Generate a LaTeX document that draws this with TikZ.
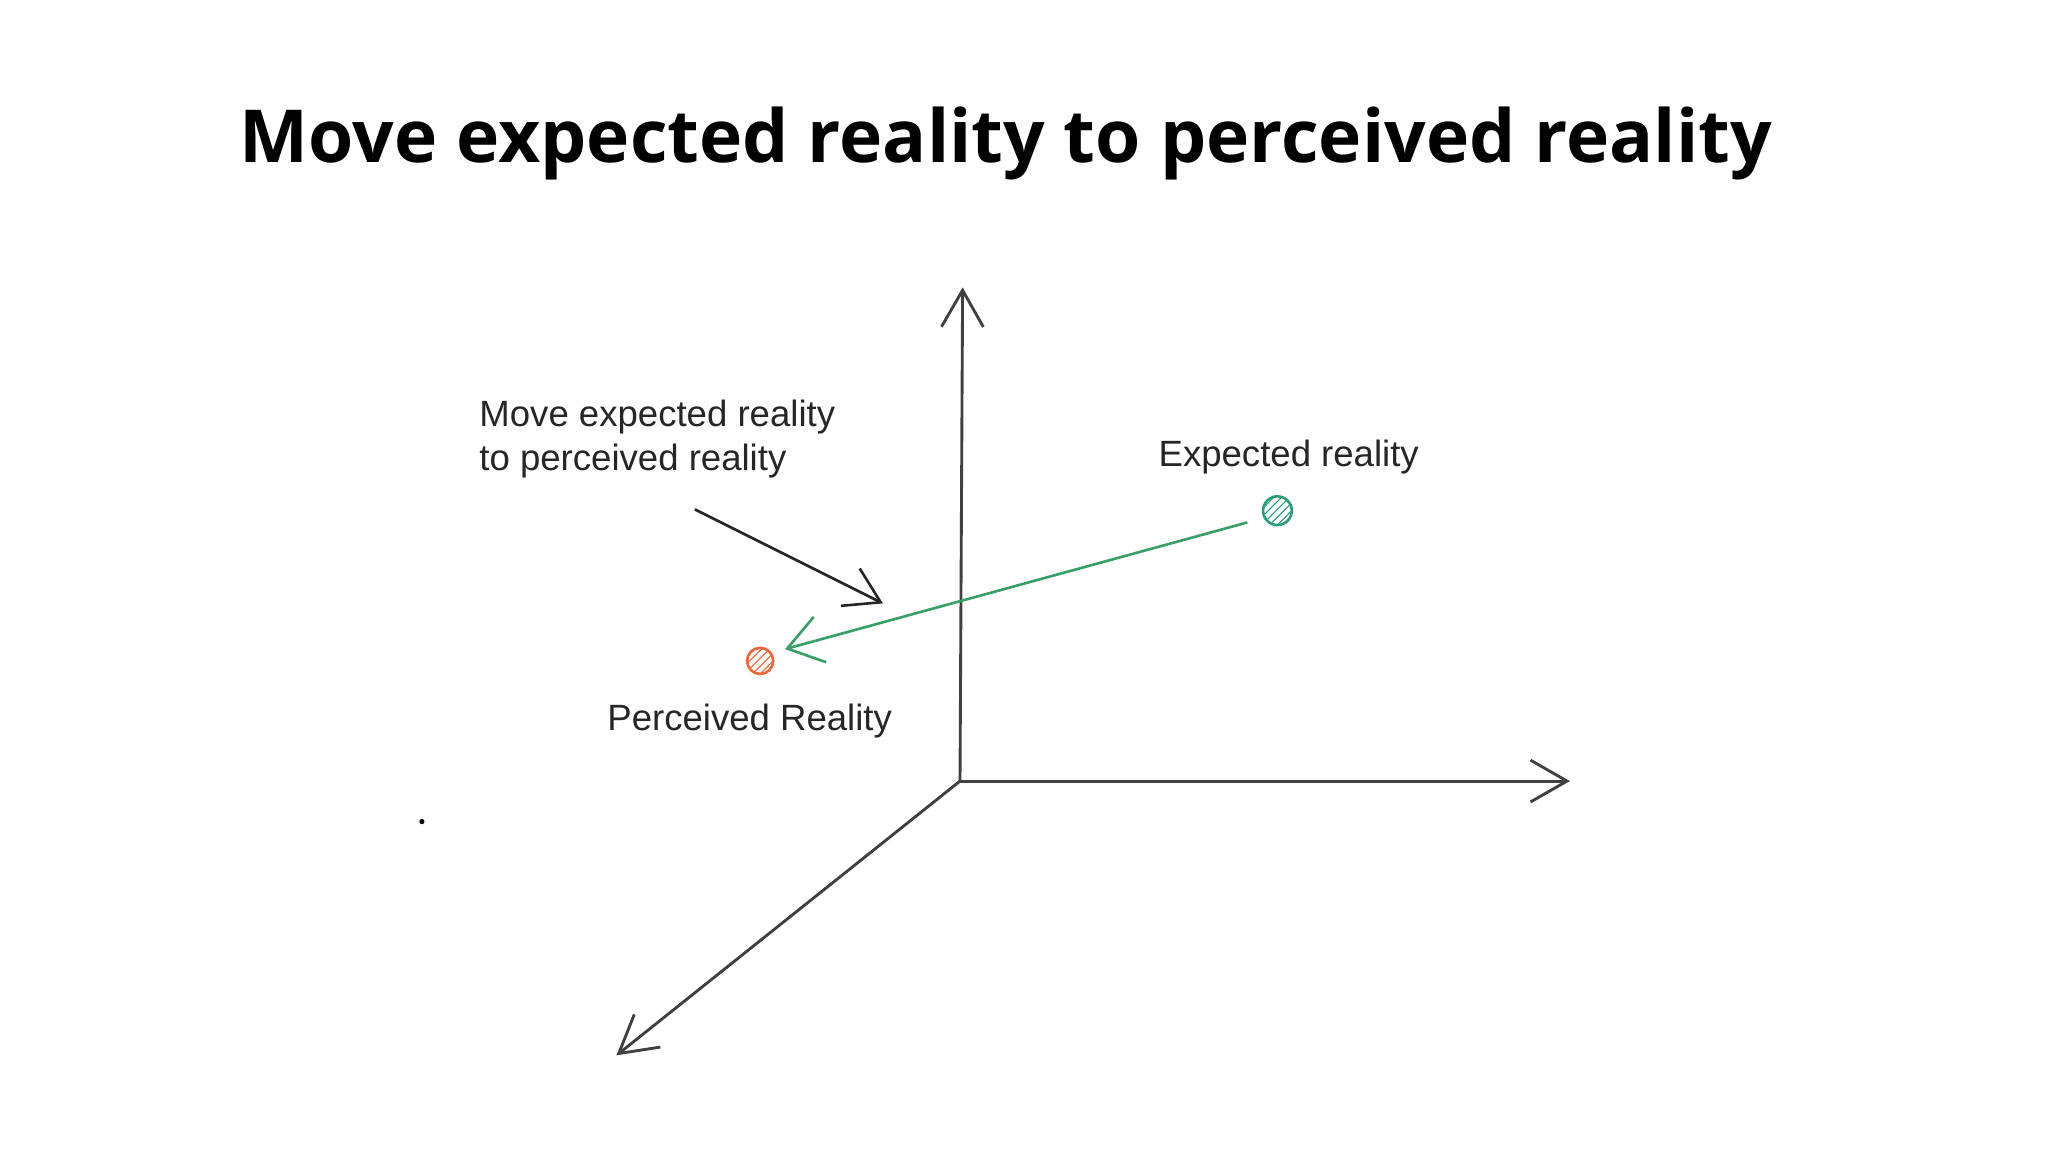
\documentclass[tikz,border=0pt]{standalone}
\usepackage{fontspec}
\setmainfont{Liberation Sans}
\newfontfamily\titlefont{Open Sans}
\usetikzlibrary{arrows.meta,patterns}
\definecolor{gline}{HTML}{3A9E68}
\definecolor{gdot}{HTML}{2E9C78}
\definecolor{odot}{HTML}{E8683A}
\begin{document}
\begin{tikzpicture}[x=0.5pt,y=-0.5pt,
  axis/.style={draw=black!75,line width=1.1pt,-{Straight Barb[length=14pt,width=16pt]}},
  lbl/.style={font=\fontsize{14}{17}\selectfont,text=black!85,align=left},
  dotg/.style={circle,draw=gdot,line width=1pt,minimum size=11pt,inner sep=0pt,pattern=north east lines,pattern color=gdot},
  doto/.style={circle,draw=odot,line width=1pt,minimum size=10pt,inner sep=0pt,pattern=north east lines,pattern color=odot}]
\useasboundingbox (0,0) rectangle (1568,882);
\node[font=\titlefont\bfseries\fontsize{28}{33}\selectfont] (title) at (770,110) {Move expected reality to perceived reality};
\coordinate (o) at (735,598);
\coordinate (yt) at (737,220);
\coordinate (xt) at (1202,598);
\coordinate (zt) at (472,808);
\draw[axis] (o) -- (yt);
\draw[axis] (o) -- (xt);
\draw[axis] (o) -- (zt);
\node[dotg] (exp) at (978,391) {};
\node[doto] (per) at (582,506) {};
\coordinate (gs) at (955,400);
\coordinate (ge) at (601,497);
\draw[draw=gline,line width=1pt,-{Straight Barb[length=13pt,width=18pt]}] (gs) -- (ge);
\coordinate (bs) at (532,390);
\coordinate (be) at (676,462);
\draw[black!85,line width=1pt,-{Straight Barb[length=13pt,width=16pt]}] (bs) -- (be);
\node[lbl,anchor=west] (l1) at (360,336) {Move expected reality\\to perceived reality};
\node[lbl,anchor=west] (l2) at (880,350) {Expected reality};
\node[lbl,anchor=west] (l3) at (458,552) {Perceived Reality};
\fill[black] (323,629) circle (1pt) coordinate (spk);
\end{tikzpicture}
\end{document}
